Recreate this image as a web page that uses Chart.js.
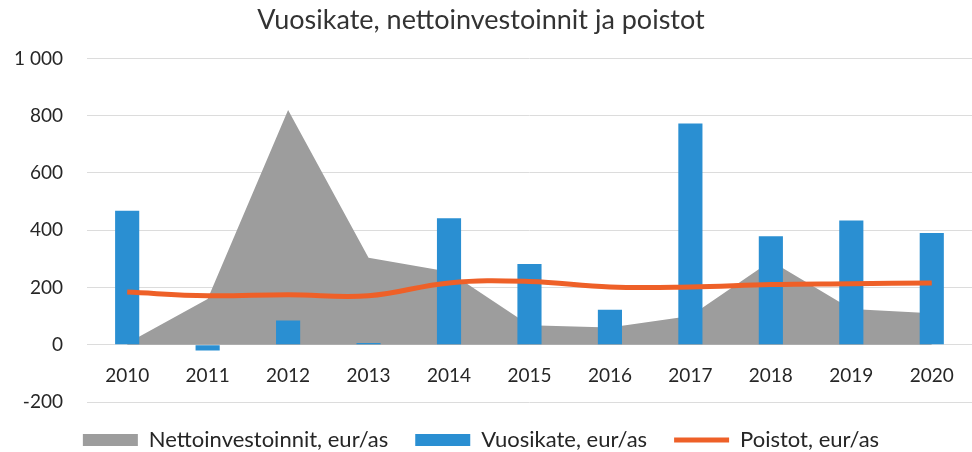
<!DOCTYPE html>
<html>
<head>
<meta charset="utf-8">
<script src="https://cdn.jsdelivr.net/npm/chart.js@4.4.1/dist/chart.umd.min.js"></script>
<style>
  html, body { margin: 0; padding: 0; background: #fff; }
</style>
</head>
<body>
<canvas id="chart" width="972" height="452"></canvas>
<script>
// vuosikate chart

const years = ['2010', '2011', '2012', '2013', '2014', '2015', '2016', '2017', '2018', '2019', '2020'];
const nettoinvestoinnit = [5, 160, 820, 304, 255, 68, 60, 100, 292, 125, 110];
const vuosikate = [468, -20, 85, 6, 442, 282, 122, 773, 379, 434, 390];
const poistot = [184, 171, 175, 171, 216, 221, 202, 202, 210, 213, 216];
const yTicks = { min: -200, max: 1000, step: 200 };

const fmt = v => String(v).replace(/\B(?=(\d{3})+(?!\d))/g, ' ');

const GREY = '#9d9d9d';
const BLUE = '#2a8fd2';
const ORANGE = '#ee6028';
const FONT = 'Lato';

new Chart(document.getElementById('chart').getContext('2d'), {
    data: {
        labels: years,
        datasets: [{
            type: 'line',
            label: 'Nettoinvestoinnit, eur/as',
            data: nettoinvestoinnit,
            backgroundColor: GREY,
            borderColor: GREY,
            borderWidth: 0,
            fill: 'origin',
            tension: 0,
            pointRadius: 0,
            pointStyle: 'rect',
            order: 3
        }, {
            type: 'bar',
            label: 'Vuosikate, eur/as',
            data: vuosikate,
            backgroundColor: BLUE,
            borderWidth: 0,
            barPercentage: 0.3,
            categoryPercentage: 1,
            pointStyle: 'rect',
            order: 2
        }, {
            type: 'line',
            label: 'Poistot, eur/as',
            data: poistot,
            borderColor: ORANGE,
            backgroundColor: ORANGE,
            borderWidth: 5,
            fill: false,
            tension: 0.4,
            pointRadius: 0,
            pointStyle: 'line',
            order: 1
        }]
    },
    options: {
        responsive: false,
        animation: false,
        layout: { padding: { left: -10, right: 0, top: 0, bottom: -9 } },
        scales: {
            x: {
                position: { y: 0 },
                offset: true,
                grid: { display: false },
                border: { display: false },
                ticks: {
                    color: '#262626',
                    font: { family: FONT, size: 19 },
                    padding: 12,
                    maxRotation: 0,
                    autoSkip: false
                }
            },
            y: {
                min: yTicks.min,
                max: yTicks.max,
                grid: { color: '#dcdcdc', drawTicks: false },
                border: { display: false },
                ticks: {
                    stepSize: yTicks.step,
                    color: '#262626',
                    font: { family: FONT, size: 19 },
                    padding: 24,
                    callback: v => fmt(v)
                }
            }
        },
        plugins: {
            title: {
                display: true,
                text: 'Vuosikate, nettoinvestoinnit ja poistot',
                color: '#333',
                font: { family: FONT, size: 27, weight: 'normal' },
                padding: { top: 4, bottom: 22 }
            },
            legend: {
                position: 'bottom',
                labels: {
                    usePointStyle: true,
                    pointStyleWidth: 55,
                    boxHeight: 12,
                    padding: 27,
                    color: '#262626',
                    font: { family: FONT, size: 22 },
                    sort: (a, b) => a.datasetIndex - b.datasetIndex
                }
            },
            tooltip: { enabled: false }
        }
    }
});
</script>
</body>
</html>
